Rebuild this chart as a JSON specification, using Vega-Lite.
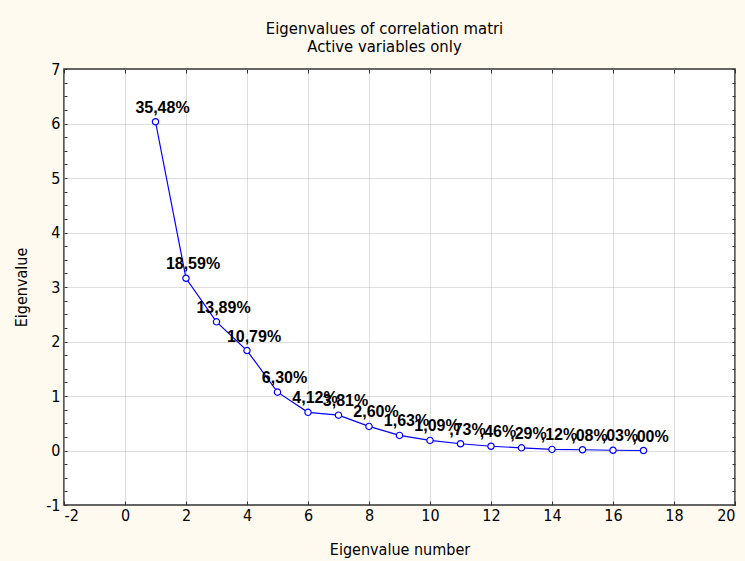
{
  "$schema": "https://vega.github.io/schema/vega-lite/v6.json",
  "autosize": "none",
  "width": 671,
  "height": 436,
  "padding": {"left": 64, "top": 69, "right": 10, "bottom": 56},
  "background": "#FFFAF0",
  "config": {
    "view": {"fill": "white", "stroke": "#333333", "strokeWidth": 1.6},
    "font": "Liberation Sans Narrow, Arial Narrow, DejaVu Sans Condensed, sans-serif",
    "axis": {"domain": false, "labelFont": "Liberation Sans Narrow, Arial Narrow, DejaVu Sans Condensed, sans-serif", "labelFontSize": 16, "labelColor": "#000", "titleFont": "Liberation Sans Narrow, Arial Narrow, DejaVu Sans Condensed, sans-serif", "titleFontSize": 16, "titleFontWeight": "normal", "titleColor": "#000", "tickColor": "#333333", "tickWidth": 1}
  },
  "title": {
    "text": ["Eigenvalues of correlation matri", "Active variables only"],
    "font": "Liberation Sans Narrow, Arial Narrow, DejaVu Sans Condensed, sans-serif",
    "fontSize": 16.5,
    "fontWeight": "normal",
    "color": "#000",
    "anchor": "middle",
    "dx": -15,
    "offset": 6,
    "lineHeight": 18
  },
  "data": {
    "values": [
      {"n": 1, "ev": 6.032, "lbl": "35,48%"},
      {"n": 2, "ev": 3.160, "lbl": "18,59%"},
      {"n": 3, "ev": 2.361, "lbl": "13,89%"},
      {"n": 4, "ev": 1.834, "lbl": "10,79%"},
      {"n": 5, "ev": 1.071, "lbl": "6,30%"},
      {"n": 6, "ev": 0.700, "lbl": "4,12%"},
      {"n": 7, "ev": 0.648, "lbl": "3,81%"},
      {"n": 8, "ev": 0.442, "lbl": "2,60%"},
      {"n": 9, "ev": 0.277, "lbl": "1,63%"},
      {"n": 10, "ev": 0.185, "lbl": "1,09%"},
      {"n": 11, "ev": 0.124, "lbl": ",73%"},
      {"n": 12, "ev": 0.078, "lbl": ",46%"},
      {"n": 13, "ev": 0.049, "lbl": ",29%"},
      {"n": 14, "ev": 0.020, "lbl": ",12%"},
      {"n": 15, "ev": 0.014, "lbl": ",08%"},
      {"n": 16, "ev": 0.005, "lbl": ",03%"},
      {"n": 17, "ev": 0.000, "lbl": ",00%"}
    ]
  },
  "resolve": {"axis": {"x": "independent", "y": "independent"}},
  "layer": [
    {
      "mark": {"type": "line", "color": "#0000FF", "strokeWidth": 1.2},
      "encoding": {
        "x": {"field": "n", "type": "quantitative", "scale": {"domain": [-2, 20], "nice": false, "zero": false},
          "axis": {"orient": "bottom", "title": "Eigenvalue number", "values": [-2, 0, 2, 4, 6, 8, 10, 12, 14, 16, 18, 20], "labelExpr": "'' + datum.value", "tickSize": -4, "labelPadding": 6, "titlePadding": 18, "grid": true, "gridColor": "#BDBDBD", "gridDash": [1, 1], "gridWidth": 1}},
        "y": {"field": "ev", "type": "quantitative", "scale": {"domain": [-1, 7], "nice": false, "zero": false},
          "axis": {"orient": "left", "title": "Eigenvalue", "values": [-1, -0.75, -0.5, -0.25, 0, 0.25, 0.5, 0.75, 1, 1.25, 1.5, 1.75, 2, 2.25, 2.5, 2.75, 3, 3.25, 3.5, 3.75, 4, 4.25, 4.5, 4.75, 5, 5.25, 5.5, 5.75, 6, 6.25, 6.5, 6.75, 7],
            "labelExpr": "datum.value % 1 === 0 ? '' + datum.value : ''", "tickSize": -3, "labelPadding": 7, "titlePadding": 16,
            "grid": true, "gridColor": "#BDBDBD", "gridDash": [1, 1], "gridWidth": 1,
            "gridOpacity": {"condition": {"test": "datum.value % 1 === 0 && datum.value > -1 && datum.value < 7", "value": 1}, "value": 0}}}
      }
    },
    {
      "mark": {"type": "point", "shape": "circle", "filled": true, "fill": "white", "stroke": "#0000FF", "strokeWidth": 1.2, "size": 40, "opacity": 1},
      "encoding": {
        "x": {"field": "n", "type": "quantitative", "scale": {"domain": [-2, 20], "nice": false, "zero": false},
          "axis": {"orient": "top", "title": null, "labels": false, "values": [-2, 0, 2, 4, 6, 8, 10, 12, 14, 16, 18, 20], "tickSize": -4, "grid": false}},
        "y": {"field": "ev", "type": "quantitative", "scale": {"domain": [-1, 7], "nice": false, "zero": false},
          "axis": {"orient": "right", "title": null, "labels": false, "values": [-1, -0.75, -0.5, -0.25, 0, 0.25, 0.5, 0.75, 1, 1.25, 1.5, 1.75, 2, 2.25, 2.5, 2.75, 3, 3.25, 3.5, 3.75, 4, 4.25, 4.5, 4.75, 5, 5.25, 5.5, 5.75, 6, 6.25, 6.5, 6.75, 7], "tickSize": -3, "grid": false}}
      }
    },
    {
      "mark": {"type": "text", "font": "Liberation Sans, Arial, sans-serif", "fontSize": 16, "fontWeight": "bold", "color": "#000", "align": "center", "baseline": "alphabetic", "dx": 7, "dy": -9},
      "encoding": {
        "x": {"field": "n", "type": "quantitative", "axis": null},
        "y": {"field": "ev", "type": "quantitative", "axis": null},
        "text": {"field": "lbl"}
      }
    }
  ]
}
